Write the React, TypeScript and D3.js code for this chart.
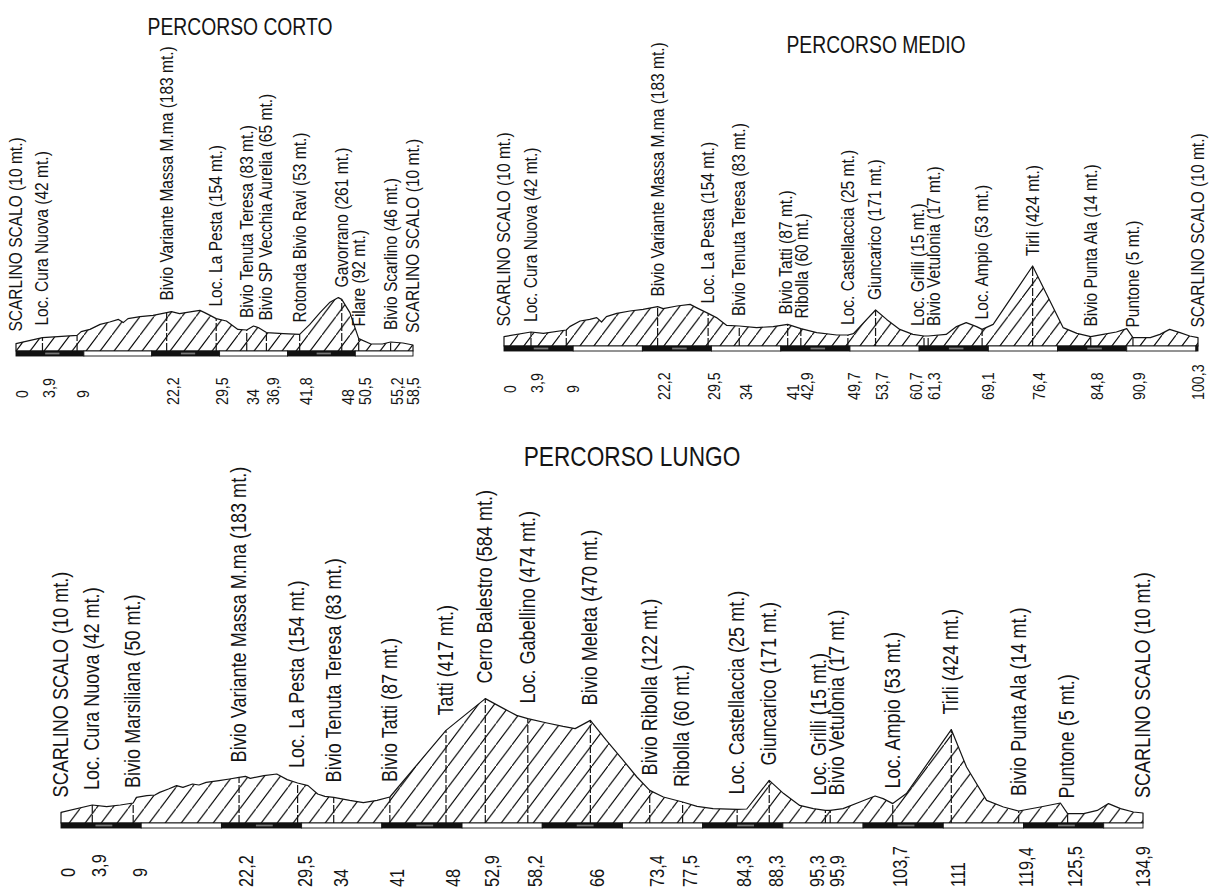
import * as d3 from "d3";

// ── PERCORSO CORTO ──
const cortoKm = [0, 3.9, 9, 9.6, 10.9, 12.4, 13.8, 15.1, 15.8, 16.5, 18.3, 20.2, 22.2, 22.9, 24.1, 25.9, 27.1, 27.8, 28.6, 29.5, 31, 32, 32.7, 34, 35, 35.7, 36.9, 39.4, 41.8, 43.3, 44.8, 46.2, 47.5, 48, 49.2, 50.5, 52.3, 54, 55.2, 57, 58.5];
const cortoQuota = [37, 67, 78, 97, 108, 133, 145, 158, 142, 162, 172, 178, 192, 197, 187, 197, 203, 192, 178, 162, 150, 125, 108, 105, 125, 117, 92, 87, 83, 133, 192, 242, 267, 258, 192, 62, 35, 35, 45, 40, 30];
const cortoTappeKm = [0, 3.9, 9, 22.2, 29.5, 34, 36.9, 41.8, 48, 50.5, 55.2, 58.5];
const cortoTappe = [
  "SCARLINO SCALO (10 mt.)", "Loc. Cura Nuova (42 mt.)", "", "Bivio Variante Massa M.ma (183 mt.)",
  "Loc. La Pesta (154 mt.)", "Bivio Tenuta Teresa (83 mt.)", "Bivio SP Vecchia Aurelia (65 mt.)",
  "Rotonda Bivio Ravi (53 mt.)", "Gavorrano (261 mt.)", "Filare (92 mt.)", "Bivio Scarlino (46 mt.)",
  "SCARLINO SCALO (10 mt.)"
];

// ── PERCORSO MEDIO ──
const medioKm = [0, 3.9, 5.7, 9, 9.5, 11, 12.4, 13.4, 14.1, 14.8, 16.3, 18.2, 20.1, 22.2, 23, 25, 26.9, 27.8, 29.5, 30.7, 32.2, 34, 36.5, 38.9, 41, 42.9, 45.2, 48.1, 49.7, 50.5, 53.7, 55.3, 57.2, 59.1, 60.7, 61.3, 63.9, 65.4, 66.8, 68.3, 69.1, 70.7, 76.4, 80.8, 82.8, 84.8, 86.6, 88.5, 90, 90.9, 93.4, 94.8, 96.2, 97.7, 99.1, 100.3];
const medioQuota = [47, 70, 63, 80, 97, 125, 133, 142, 120, 147, 163, 175, 183, 197, 187, 200, 208, 192, 163, 142, 103, 100, 92, 97, 108, 87, 67, 55, 55, 62, 180, 133, 83, 58, 50, 50, 58, 97, 117, 97, 83, 108, 400, 92, 63, 47, 58, 70, 87, 42, 42, 58, 83, 67, 50, 42];
const medioTappeKm = [0, 3.9, 9, 22.2, 29.5, 34, 41, 42.9, 49.7, 53.7, 60.7, 61.3, 69.1, 76.4, 84.8, 90.9, 100.3];
const medioTappe = [
  "SCARLINO SCALO (10 mt.)", "Loc. Cura Nuova (42 mt.)", "", "Bivio Variante Massa M.ma (183 mt.)",
  "Loc. La Pesta (154 mt.)", "Bivio Tenuta Teresa (83 mt.)", "Bivio Tatti (87 mt.)", "Ribolla (60 mt.)",
  "Loc. Castellaccia (25 mt.)", "Giuncarico (171 mt.)", "Loc. Grilli (15 mt.)", "Bivio Vetulonia (17 mt.)",
  "Loc. Ampio (53 mt.)", "Tirli (424 mt.)", "Bivio Punta Ala (14 mt.)", "Puntone (5 mt.)",
  "SCARLINO SCALO (10 mt.)"
];

// ── PERCORSO LUNGO ──
const lungoKm = [0, 3.9, 5.7, 7.4, 9, 9.4, 10.7, 11.7, 12.3, 13.4, 14.4, 15.2, 16.4, 17.2, 18.1, 19.7, 21, 22.2, 23, 23.6, 25.3, 26.9, 28.2, 29.5, 30.8, 32, 32.9, 34, 36, 37.7, 39.4, 41, 48, 52.9, 55.2, 56.8, 58.2, 60.6, 62.6, 64.1, 66, 68, 70.1, 71.8, 73.4, 75.1, 77.5, 79.3, 81.3, 84.3, 85.5, 88.3, 90.1, 92.1, 93.8, 95.3, 95.9, 97.5, 99.6, 101.5, 102.5, 103.7, 105.4, 108.3, 111, 112.9, 115.4, 117.5, 119.4, 122.1, 124.6, 125.5, 127.5, 129.2, 130.6, 132.1, 133.7, 134.9];
const lungoQuota = [53, 90, 82, 90, 100, 128, 137, 140, 153, 170, 187, 178, 195, 190, 203, 212, 220, 228, 233, 223, 237, 245, 217, 200, 187, 145, 133, 128, 113, 102, 113, 130, 463, 622, 572, 538, 522, 500, 483, 472, 513, 413, 313, 230, 163, 130, 105, 83, 72, 68, 70, 213, 147, 88, 72, 63, 63, 72, 105, 135, 122, 97, 147, 313, 467, 280, 113, 80, 60, 80, 100, 47, 47, 63, 97, 72, 55, 50];
const lungoTappeKm = [0, 3.9, 9, 22.2, 29.5, 34, 41, 48, 52.9, 58.2, 66, 73.4, 77.5, 84.3, 88.3, 95.3, 95.9, 103.7, 111, 119.4, 125.5, 134.9];
const lungoTappe = [
  "SCARLINO SCALO (10 mt.)", "Loc. Cura Nuova (42 mt.)", "Bivio Marsiliana (50 mt.)",
  "Bivio Variante Massa M.ma (183 mt.)", "Loc. La Pesta (154 mt.)", "Bivio Tenuta Teresa (83 mt.)",
  "Bivio Tatti (87 mt.)", "Tatti (417 mt.)", "Cerro Balestro (584 mt.)", "Loc. Gabellino (474 mt.)",
  "Bivio Meleta (470 mt.)", "Bivio Ribolla (122 mt.)", "Ribolla (60 mt.)", "Loc. Castellaccia (25 mt.)",
  "Giuncarico (171 mt.)", "Loc. Grilli (15 mt.)", "Bivio Vetulonia (17 mt.)", "Loc. Ampio (53 mt.)",
  "Tirli (424 mt.)", "Bivio Punta Ala (14 mt.)", "Puntone (5 mt.)", "SCARLINO SCALO (10 mt.)"
];

const FONT = "'Liberation Sans', Arial, sans-serif";
const CONDENSE = 0.84;
const INK = "#141414";

interface Layout {
  id: string;
  title: string;
  x: [number, number];
  base: number;
  titleX: number;
  titleY: number;
  titleSize: number;
  labelSize: number;
  kmSize: number;
  gap: number;
  kmOffset: number;
  kmOffsetNear: number;
  hatch: number;
}

const LAYOUTS: Layout[] = [
  { id: "corto", title: "PERCORSO CORTO", x: [16, 413], base: 351, titleX: 240, titleY: 35, titleSize: 23, labelSize: 18.5, kmSize: 17, gap: 12, kmOffset: 54, kmOffsetNear: 47, hatch: 14 },
  { id: "medio", title: "PERCORSO MEDIO", x: [504, 1198], base: 346, titleX: 876, titleY: 53, titleSize: 23, labelSize: 18.5, kmSize: 17, gap: 10, kmOffset: 54, kmOffsetNear: 47, hatch: 14 },
  { id: "lungo", title: "PERCORSO LUNGO", x: [61, 1143], base: 823, titleX: 632, titleY: 466, titleSize: 27, labelSize: 21.5, kmSize: 19.5, gap: 15, kmOffset: 64, kmOffsetNear: 54, hatch: 16 }
];

const fmtKm = (k: number) => String(k).replace(".", ",");

function Profilo({ lay, km, quota, tappeKm, tappe }: {
  lay: Layout; km: number[]; quota: number[]; tappeKm: number[]; tappe: string[];
}) {
  const total = km[km.length - 1];
  const x = d3.scaleLinear().domain([0, total]).range(lay.x);
  const y = d3.scaleLinear().domain([0, 100]).range([lay.base, lay.base - 20]);
  const pts = km.map((k, i) => [k, quota[i]] as [number, number]);
  const quotaAt = d3.scaleLinear().domain(km).range(quota);

  const area = d3.area<[number, number]>()
    .x((d) => x(d[0]))
    .y0(lay.base)
    .y1((d) => y(d[1]));
  const path = area(pts) ?? "";

  // barra scala a tratti di 10 km
  const segs = d3.range(0, total, 10).map((s, i) => ({ s, e: Math.min(s + 10, total), black: i % 2 === 0 }));

  // etichette località, spinte se troppo vicine
  const sep = lay.labelSize * 0.85;
  const cx = tappeKm.map((k) => x(k));
  for (let i = 1; i < cx.length; i++) {
    if (!tappe[i] || !tappe[i - 1]) continue;
    const d = cx[i] - cx[i - 1];
    if (d < sep) { const s = (sep - d) / 2; cx[i - 1] -= s; cx[i] += s; }
  }

  // etichette km
  const w = lay.kmSize * 0.75;
  const lx = tappeKm.map((k) => x(k));
  for (let i = 0; i < lx.length - 1; i++) {
    const g = x(tappeKm[i + 1]) - x(tappeKm[i]);
    if (g < w / 2) lx[i] = x(tappeKm[i]) - w - 1;
    else if (g < w + 1) lx[i] = x(tappeKm[i]) - (w + 1 - g);
  }
  lx[lx.length - 1] = x(total) - w / 2; // ultima centrata sulla linea

  const slope = 1.33;
  const hw = lay.hatch, hh = lay.hatch * slope;

  return (
    <g>
      <defs>
        <pattern id={`hatch-${lay.id}`} patternUnits="userSpaceOnUse" width={hw} height={hh}>
          <line x1={-hw * 0.1} y1={hh * 1.1} x2={hw * 1.1} y2={-hh * 0.1} stroke="#000" strokeWidth={1.1} />
        </pattern>
      </defs>
      <text transform={`translate(${lay.titleX},${lay.titleY}) scale(${CONDENSE},1)`} textAnchor="middle"
        fontSize={lay.titleSize} fontFamily={FONT} fill={INK}>{lay.title}</text>

      <path d={path} fill={`url(#hatch-${lay.id})`} stroke="none" />
      {tappeKm.slice(1, -1).map((k) => (
        <line key={`v${k}`} x1={x(k)} x2={x(k)} y1={lay.base} y2={y(quotaAt(k))}
          stroke={INK} strokeWidth={1.2} strokeDasharray="8 2" />
      ))}
      <path d={path} fill="none" stroke={INK} strokeWidth={1.2} strokeLinejoin="round" />

      {segs.map((sg) => (
        <g key={`b${sg.s}`}>
          <rect x={x(sg.s)} y={lay.base} width={x(sg.e) - x(sg.s)} height={5}
            fill={sg.black ? "#111" : "#fff"} stroke="#111" strokeWidth={0.9} />
          {sg.black && sg.s + 6.4 <= total && (
            <rect x={x(sg.s + 4.3)} y={lay.base + 1.6} width={x(sg.s + 6.4) - x(sg.s + 4.3)} height={1.8} fill="#777" />
          )}
        </g>
      ))}

      {tappe.map((t, i) => t && (
        <text key={`t${i}`} transform={`translate(${cx[i]},${y(quotaAt(tappeKm[i])) - lay.gap}) rotate(-90) scale(${CONDENSE},1)`}
          dy="0.32em" fontSize={lay.labelSize} fontFamily={FONT} fill={INK}>{t}</text>
      ))}

      {tappeKm.map((k, i) => (
        <text key={`k${i}`} transform={`translate(${lx[i]},${lay.base + (k < 10 ? lay.kmOffsetNear : lay.kmOffset)}) rotate(-90) scale(${CONDENSE},1)`}
          dy="0.72em" fontSize={lay.kmSize} fontFamily={FONT} fill={INK}>{fmtKm(k)}</text>
      ))}
    </g>
  );
}

export default function App() {
  return (
    <div style={{ position: "absolute", left: 0, top: 0, width: 1210, height: 896, background: "#fff" }}>
      <svg width={1210} height={896} viewBox="0 0 1210 896" style={{ display: "block" }}>
        <rect width={1210} height={896} fill="#fff" />
        <Profilo lay={LAYOUTS[0]} km={cortoKm} quota={cortoQuota} tappeKm={cortoTappeKm} tappe={cortoTappe} />
        <Profilo lay={LAYOUTS[1]} km={medioKm} quota={medioQuota} tappeKm={medioTappeKm} tappe={medioTappe} />
        <Profilo lay={LAYOUTS[2]} km={lungoKm} quota={lungoQuota} tappeKm={lungoTappeKm} tappe={lungoTappe} />
      </svg>
    </div>
  );
}
